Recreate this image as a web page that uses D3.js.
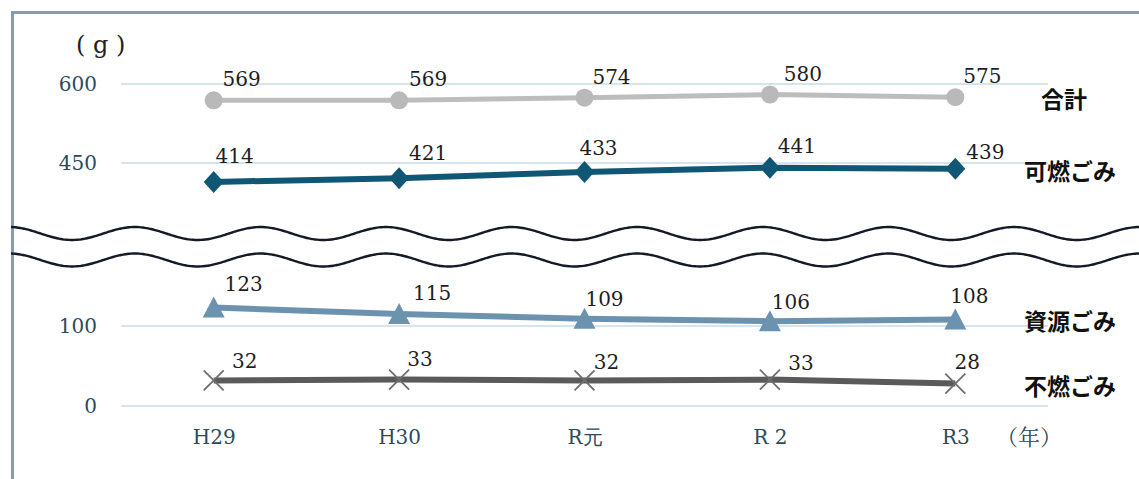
<!DOCTYPE html>
<html><head><meta charset="utf-8">
<script src="https://cdn.jsdelivr.net/npm/d3@7"></script>
<style>
html,body{margin:0;padding:0;background:#fff;}
svg{display:block;}
</style></head>
<body>
<script>
// ---- data ----
const years = ["H29", "H30", "R元", "R 2", "R3"];
const totalVals = [569, 569, 574, 580, 575];      // 合計
const burnVals = [414, 421, 433, 441, 439];       // 可燃ごみ
const resourceVals = [123, 115, 109, 106, 108];   // 資源ごみ
const nonBurnVals = [32, 33, 32, 33, 28];         // 不燃ごみ
const seriesNames = ["合計", "可燃ごみ", "資源ごみ", "不燃ごみ"];
const upperTicks = [450, 600];
const lowerTicks = [0, 100];

// ---- layout ----
const W = 1139, H = 479;
const svg = d3.select("body").append("svg").attr("width", W).attr("height", H);
const serif = "'DejaVu Serif', 'Liberation Serif', serif";
const sans = "'Noto Sans CJK JP', 'Noto Sans', sans-serif";

const x = d3.scalePoint().domain(years).range([121, 1048]).padding(0.5);
const yUp = d3.scaleLinear().domain([450, 600]).range([163, 84]);
const yLo = d3.scaleLinear().domain([0, 100]).range([406, 326]);

// frame
svg.append("path").attr("d", `M12.5,${H} V12.5 H${W}`)
  .attr("fill", "none").attr("stroke", "#7f9db5").attr("stroke-width", 3);

// gridlines
const grid = svg.append("g");
upperTicks.forEach(t => grid.append("line").attr("x1", 121).attr("x2", 1048)
  .attr("y1", yUp(t)).attr("y2", yUp(t)).attr("stroke", "#c9dbe7").attr("stroke-width", 1.5));
lowerTicks.forEach(t => grid.append("line").attr("x1", 121).attr("x2", 1048)
  .attr("y1", yLo(t)).attr("y2", yLo(t)).attr("stroke", "#c9dbe7").attr("stroke-width", 1.5));

// y axes (labels only)
const axUp = svg.append("g").attr("transform", "translate(97,0)")
  .call(d3.axisLeft(yUp).tickValues(upperTicks).tickSize(0).tickPadding(0));
const axLo = svg.append("g").attr("transform", "translate(97,0)")
  .call(d3.axisLeft(yLo).tickValues(lowerTicks).tickSize(0).tickPadding(0));
[axUp, axLo].forEach(a => {
  a.select(".domain").remove();
  a.selectAll("text").attr("font-family", serif).attr("font-size", 20).attr("fill", "#2b4a5e");
});

// x axis labels
const axX = svg.append("g").attr("transform", "translate(0,438)")
  .call(d3.axisBottom(x).tickSize(0).tickPadding(0));
axX.select(".domain").remove();
axX.selectAll("text").attr("font-family", serif).attr("font-size", 20).attr("fill", "#2b4a5e")
  .attr("dy", "0.32em");

svg.append("text").attr("x", 76).attr("y", 53).text("( g )")
  .attr("font-family", serif).attr("font-size", 24).attr("fill", "#222");
svg.append("text").attr("x", 996).attr("y", 445).text("（年）")
  .attr("font-family", "'Noto Serif CJK JP', " + serif).attr("font-size", 22).attr("fill", "#2b4a5e");

// wavy break lines (decoration)
function wave(cy, amp) {
  const pts = d3.range(11, W + 2, 2).map(px => [px, cy + amp * Math.cos(2 * Math.PI * (px - 72) / 125.6)]);
  return d3.line().curve(d3.curveBasis)(pts);
}
svg.append("path").attr("d", wave(233.5, 6.5)).attr("fill", "none").attr("stroke", "#151a28").attr("stroke-width", 2.4);
svg.append("path").attr("d", wave(260, 6.5)).attr("fill", "none").attr("stroke", "#151a28").attr("stroke-width", 2.4);

// series
const series = [
  {name: seriesNames[0], vals: totalVals, y: yUp, color: "#bdbdbd", mcolor: "#b9b9b9", w: 5, marker: "circle",
   nudge: [[28,-21],[29,-21],[27,-21],[33,-21],[27,-21]]},
  {name: seriesNames[1], vals: burnVals, y: yUp, color: "#0f5775", mcolor: "#0f5775", w: 6, marker: "diamond",
   nudge: [[21,-26],[29,-25],[14,-24],[27,-22],[30,-17]]},
  {name: seriesNames[2], vals: resourceVals, y: yLo, color: "#6b93b0", mcolor: "#6b93b0", w: 6, marker: "triangle",
   nudge: [[30,-24],[33,-21],[20,-20],[21,-19],[14,-24]]},
  {name: seriesNames[3], vals: nonBurnVals, y: yLo, color: "#5a5a5a", mcolor: "#6e6e6e", w: 6, marker: "x",
   nudge: [[31,-19],[21,-21],[22,-18],[31,-17],[12,-22]]}
];
const legendPos = [[1041, 100], [1024, 172], [1024, 322], [1024, 387]];

series.forEach((s, si) => {
  const g = svg.append("g");
  const line = d3.line().x((d, i) => x(years[i])).y(d => s.y(d));
  g.append("path").datum(s.vals).attr("d", line).attr("fill", "none")
    .attr("stroke", s.color).attr("stroke-width", s.w).attr("stroke-linejoin", "round");
  s.vals.forEach((v, i) => {
    const px = x(years[i]), py = s.y(v);
    if (s.marker === "circle") {
      g.append("circle").attr("cx", px).attr("cy", py).attr("r", 9).attr("fill", s.mcolor);
    } else if (s.marker === "diamond") {
      g.append("path").attr("d", `M${px},${py-11} L${px+10},${py} L${px},${py+11} L${px-10},${py} Z`).attr("fill", s.mcolor);
    } else if (s.marker === "triangle") {
      g.append("path").attr("d", `M${px},${py-11} L${px+11},${py+10} L${px-11},${py+10} Z`).attr("fill", s.mcolor);
    } else {
      g.append("path").attr("d", `M${px-10},${py-10} L${px+10},${py+10} M${px+10},${py-10} L${px-10},${py+10}`)
        .attr("stroke", s.mcolor).attr("stroke-width", 1.8).attr("fill", "none");
    }
    g.append("text").attr("x", px + s.nudge[i][0]).attr("y", py + s.nudge[i][1]).attr("dy", "0.35em")
      .attr("text-anchor", "middle").text(v)
      .attr("font-family", serif).attr("font-size", 20).attr("fill", "#1e1e1e");
  });
  svg.append("text").attr("x", legendPos[si][0]).attr("y", legendPos[si][1]).attr("dy", "0.36em")
    .text(s.name).attr("font-family", sans).attr("font-size", 23).attr("font-weight", 700).attr("fill", "#111");
});
</script>
</body></html>
